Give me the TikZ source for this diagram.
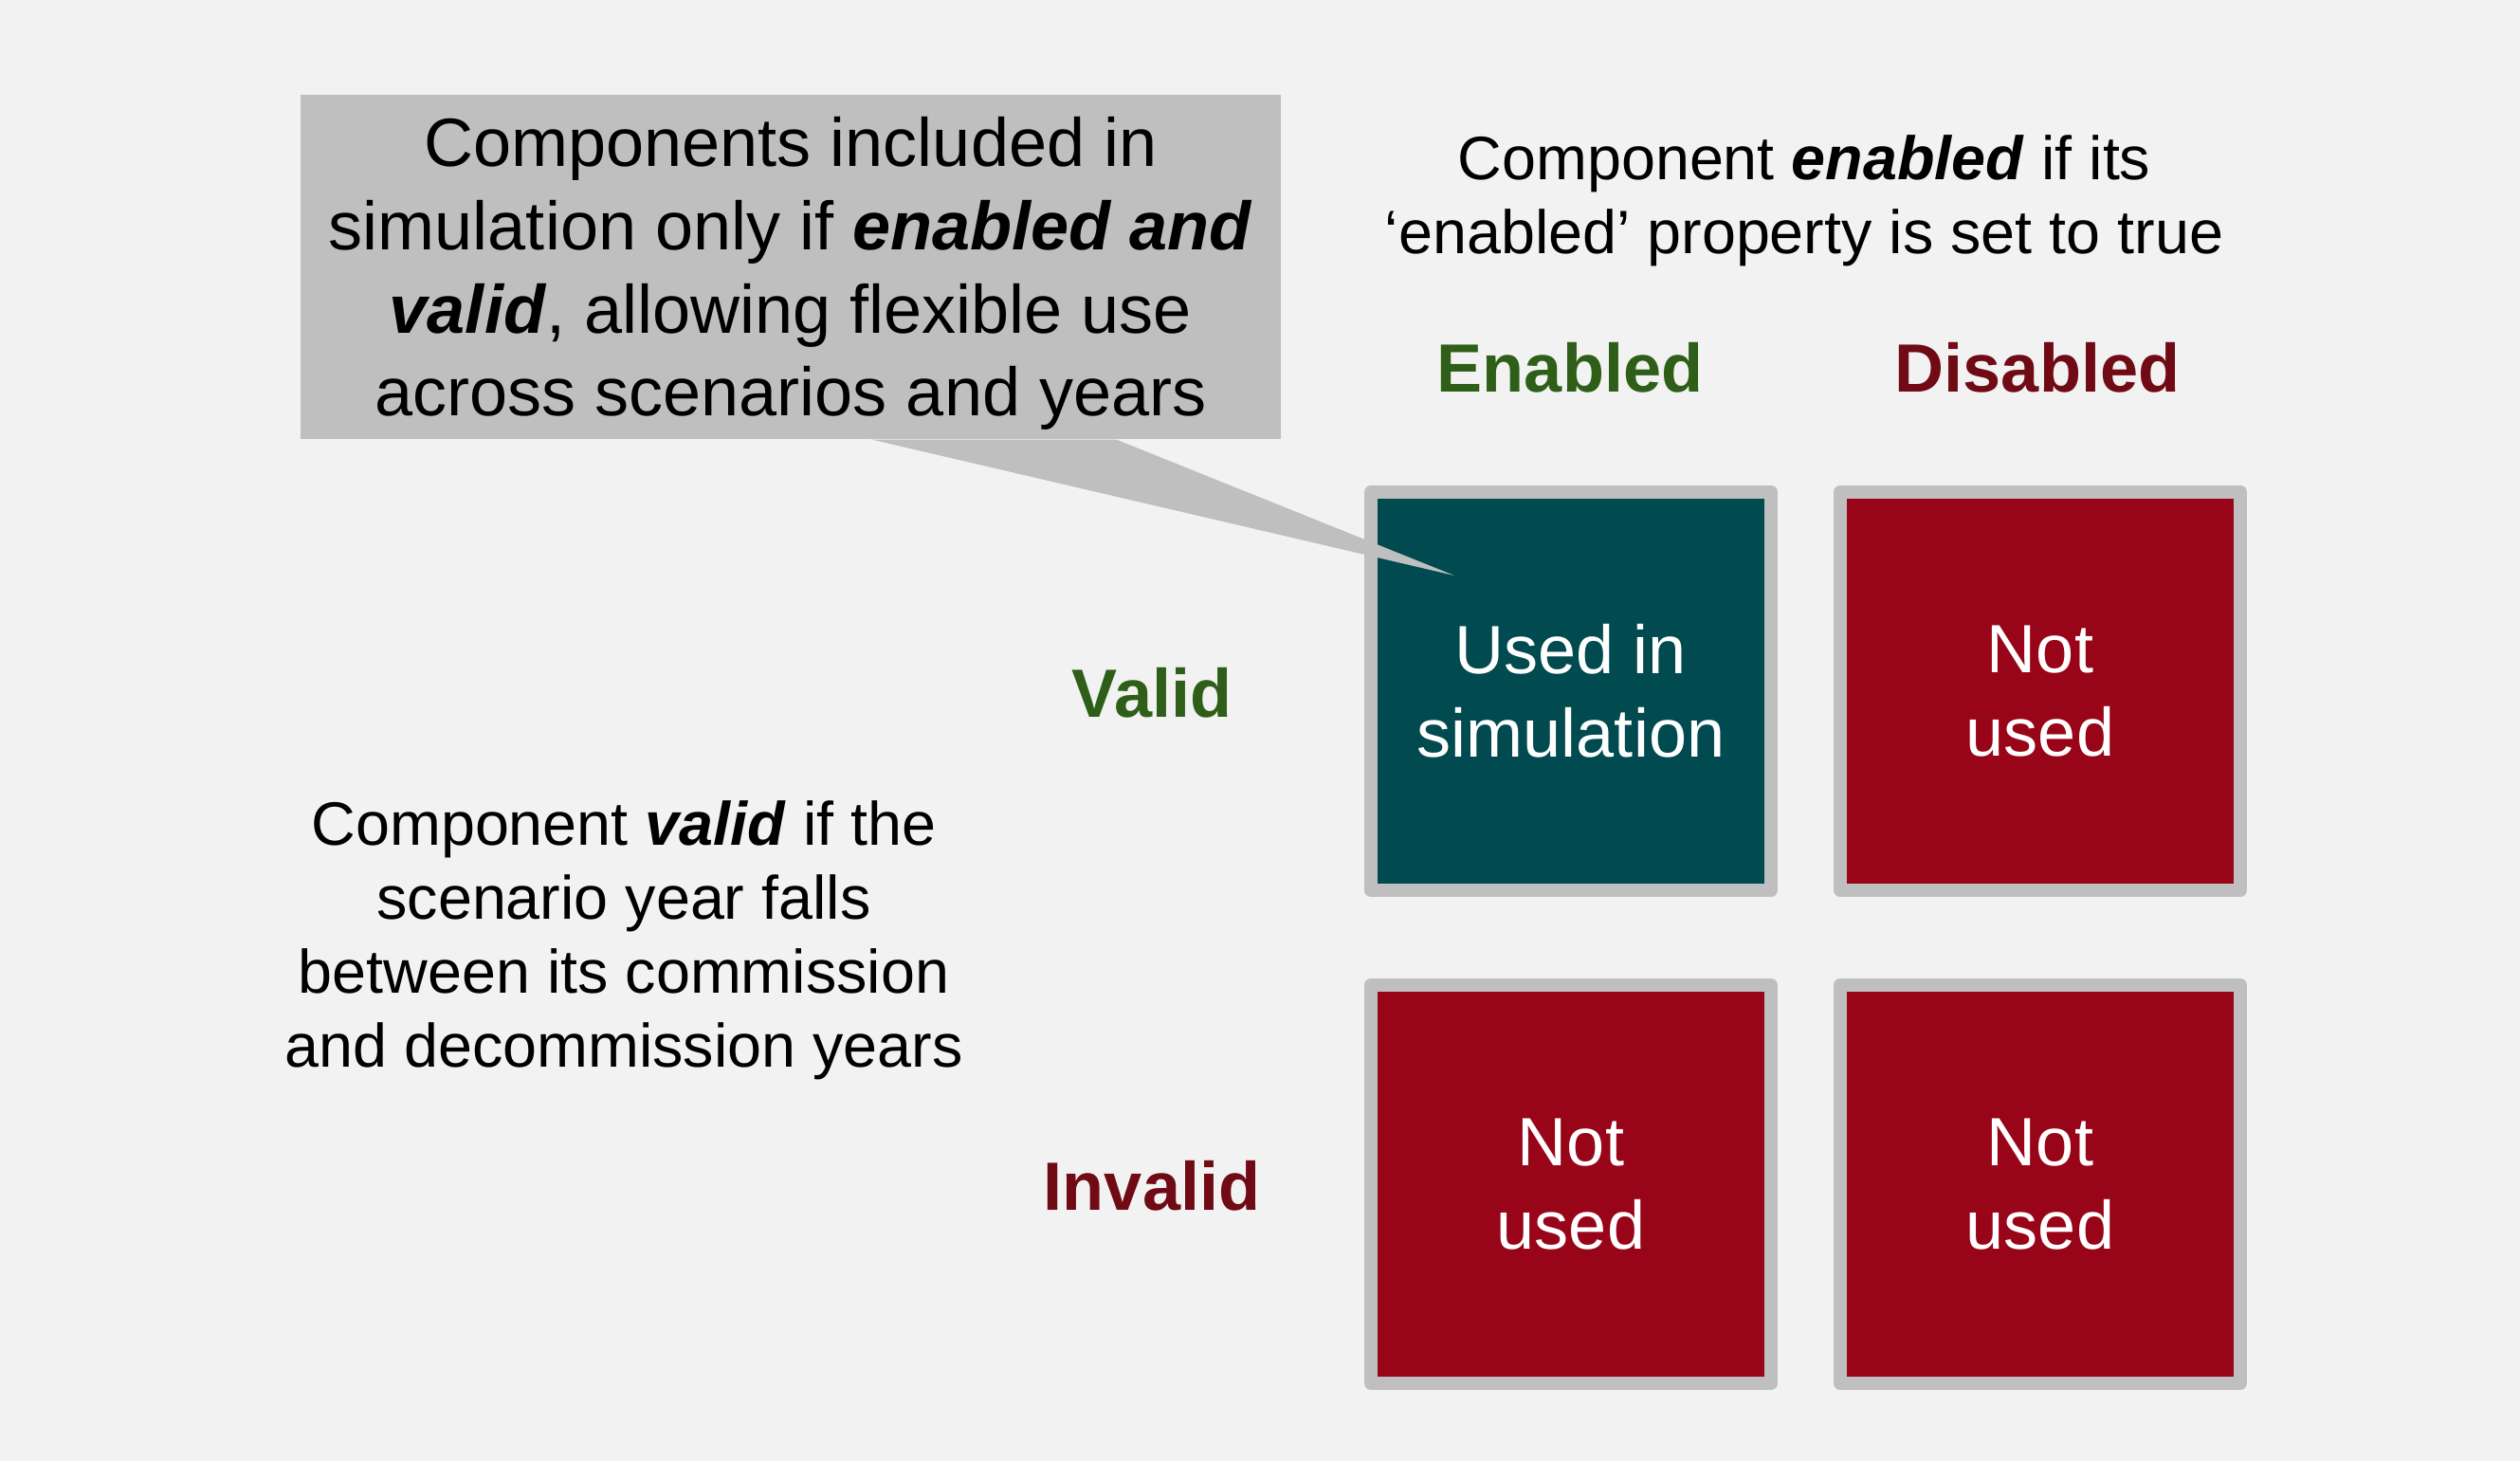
\documentclass[tikz,border=0pt]{standalone}
\usepackage{fontspec}
\setmainfont{Liberation Sans}
\usetikzlibrary{positioning, calc}
\definecolor{pagebg}{RGB}{242, 242, 242}
\definecolor{cellrim}{RGB}{191, 191, 191}
\definecolor{usedcol}{RGB}{0, 74, 80}
\definecolor{unusedcol}{RGB}{153, 5, 24}
\definecolor{enabledcol}{RGB}{46, 94, 24}
\definecolor{disabledcol}{RGB}{112, 10, 20}
\definecolor{calloutcol}{RGB}{191, 191, 191}

\begin{document}
\begin{tikzpicture}[
    cell/.style={
        rectangle, draw=cellrim, fill=#1, line width=0.14cm, line join=round,
        minimum width=4.22cm, minimum height=4.2cm, inner sep=0pt, outer sep=0pt,
        align=center, text=white, font=\fontsize{20.5pt}{25pt}\selectfont
    },
    head/.style={
        font=\fontsize{20.5pt}{25pt}\selectfont\bfseries, text=#1
    },
    note/.style={
        align=center, text=black, font=\fontsize{18.4pt}{22.2pt}\selectfont
    }
]

% Page background and margins
\fill[pagebg] (0,0) rectangle (26.58,-15.41);
\useasboundingbox (0,0) rectangle (26.58,-15.41);

% Grid cells
\node[cell=usedcol]   (ev) at (16.57, -7.29)  {Used in\\simulation};
\node[cell=unusedcol] (dv) at (21.52, -7.29)  {Not\\used};
\node[cell=unusedcol] (ei) at (16.57, -12.49) {Not\\used};
\node[cell=unusedcol] (di) at (21.52, -12.49) {Not\\used};

% Column headings
\node[head=enabledcol]  (enabled)  at (16.56, -3.88) {Enabled};
\node[head=disabledcol] (disabled) at (21.49, -3.88) {Disabled};

% Row headings
\node[head=enabledcol]  (valid)   at (12.15, -7.31)  {Valid};
\node[head=disabledcol] (invalid) at (12.15, -12.51) {Invalid};

% Explanations
\node[note] (enablednote) at (19.03, -2.12)
    {Component \textbf{\textit{enabled}} if its\\‘enabled’ property is set to true};
\node[note] (validnote) at (6.58, -9.92)
    {Component \textbf{\textit{valid}} if the\\scenario year falls\\between its commission\\and decommission years};

% Callout with tail into the used cell
\node[rectangle, fill=calloutcol, minimum width=10.34cm, minimum height=3.63cm,
      inner sep=0pt] (callout) at (8.34, -2.815) {};
\coordinate (tip) at (15.34, -6.07);
\fill[calloutcol] ($(callout.south west)!0.583!(callout.south east)$)
    -- (tip) -- ($(callout.south west)!0.832!(callout.south east)$) -- cycle;
\node[align=center, font=\fontsize{20.5pt}{25pt}\selectfont]
      (callouttext) at ([yshift=-0.07cm]callout.center)
      {Components included in\\simulation only if \textbf{\textit{enabled and}}\\\textbf{\textit{valid}}, allowing flexible use\\across scenarios and years};

\end{tikzpicture}
\end{document}
